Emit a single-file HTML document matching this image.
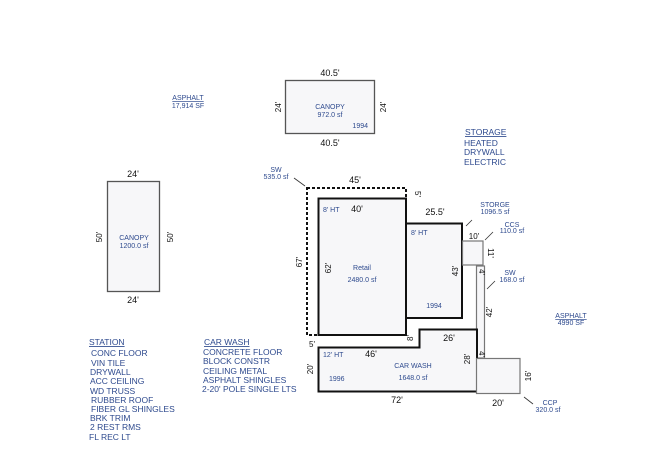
<!DOCTYPE html>
<html><head><meta charset="utf-8"><style>
html,body{margin:0;padding:0;background:#fff;}
svg{display:block;font-family:"Liberation Sans",sans-serif;}
.b{fill:#2e4a8e;font-size:7px;}
.bl{fill:#2e4a8e;font-size:8.5px;}
.d{fill:#111;font-size:9px;}
.ds{fill:#111;font-size:8px;}
</style></head><body>
<svg width="650" height="464" viewBox="0 0 650 464">
<rect width="650" height="464" fill="#fff"/>
<!-- top canopy -->
<rect x="285.5" y="80.5" width="89" height="53" fill="#f7f7f9" stroke="#555" stroke-width="1.3"/>
<text class="d" x="330" y="76" text-anchor="middle">40.5'</text>
<text class="d" x="330" y="146" text-anchor="middle">40.5'</text>
<text class="ds" transform="translate(281,107) rotate(-90)" text-anchor="middle">24'</text>
<text class="ds" transform="translate(386,107) rotate(-90)" text-anchor="middle">24'</text>
<text class="b" x="330" y="109" text-anchor="middle">CANOPY</text>
<text class="b" x="330" y="117" text-anchor="middle">972.0 sf</text>
<text class="b" x="368" y="128" text-anchor="end">1994</text>
<!-- asphalt -->
<text class="b" x="188" y="100" text-anchor="middle" text-decoration="underline">ASPHALT</text>
<text class="b" x="188" y="108" text-anchor="middle">17,914 SF</text>
<!-- left canopy -->
<rect x="107.5" y="181.5" width="52" height="110" fill="#f7f7f9" stroke="#555" stroke-width="1.3"/>
<text class="d" x="133" y="177" text-anchor="middle">24'</text>
<text class="d" x="133" y="303" text-anchor="middle">24'</text>
<text class="ds" transform="translate(102,237) rotate(-90)" text-anchor="middle">50'</text>
<text class="ds" transform="translate(173,237) rotate(-90)" text-anchor="middle">50'</text>
<text class="b" x="134" y="240" text-anchor="middle">CANOPY</text>
<text class="b" x="134" y="248" text-anchor="middle">1200.0 sf</text>
<!-- SW dashed -->
<rect x="307" y="188" width="99" height="147" fill="#fff" stroke="#111" stroke-width="2" stroke-dasharray="3,2"/>
<text class="b" x="276" y="172" text-anchor="middle">SW</text>
<text class="b" x="276" y="179" text-anchor="middle">535.0 sf</text>
<line x1="294" y1="178" x2="305" y2="186" stroke="#333" stroke-width="0.8"/>
<text class="d" x="355" y="183" text-anchor="middle">45'</text>
<text class="ds" transform="translate(415,194) rotate(90)" text-anchor="middle">5'</text>
<text class="ds" transform="translate(302,262) rotate(-90)" text-anchor="middle">67'</text>
<!-- retail -->
<rect x="318.5" y="198.5" width="87.5" height="136.5" fill="#f7f7f9" stroke="#111" stroke-width="2"/>
<text class="b" x="323" y="212">8' HT</text>
<text class="d" x="357" y="212" text-anchor="middle">40'</text>
<text class="ds" transform="translate(331,268) rotate(-90)" text-anchor="middle">62'</text>
<text class="b" x="362" y="270" text-anchor="middle">Retail</text>
<text class="b" x="362" y="282" text-anchor="middle">2480.0 sf</text>
<text class="ds" x="312" y="347" text-anchor="middle">5'</text>
<!-- storage -->
<rect x="406" y="223.5" width="56" height="94.5" fill="#f7f7f9" stroke="#111" stroke-width="2"/>
<text class="d" x="435" y="215" text-anchor="middle">25.5'</text>
<text class="b" x="411" y="235">8' HT</text>
<text class="ds" transform="translate(458,271) rotate(-90)" text-anchor="middle">43'</text>
<text class="b" x="434" y="308" text-anchor="middle">1994</text>
<text class="b" x="495" y="207" text-anchor="middle">STORGE</text>
<text class="b" x="495" y="214" text-anchor="middle">1096.5 sf</text>
<line x1="472" y1="220" x2="466" y2="226" stroke="#333" stroke-width="0.8"/>
<!-- CCS -->
<rect x="462.5" y="241" width="20.5" height="24" fill="#f7f7f9" stroke="#777" stroke-width="1.2"/>
<text class="ds" x="474" y="239" text-anchor="middle">10'</text>
<text class="ds" transform="translate(488,253) rotate(90)" text-anchor="middle">11'</text>
<text class="b" x="512" y="227" text-anchor="middle">CCS</text>
<text class="b" x="512" y="233" text-anchor="middle">110.0 sf</text>
<line x1="493" y1="232" x2="485" y2="240" stroke="#333" stroke-width="0.8"/>
<!-- SW strip -->
<rect x="476.5" y="266" width="8" height="92" fill="#f7f7f9" stroke="#777" stroke-width="1.2"/>
<text class="ds" transform="translate(479,272) rotate(90)" text-anchor="middle">4'</text>
<text class="ds" transform="translate(492,312) rotate(-90)" text-anchor="middle">42'</text>
<text class="b" x="510" y="275" text-anchor="middle">SW</text>
<text class="b" x="512" y="282" text-anchor="middle">168.0 sf</text>
<line x1="495" y1="281" x2="487" y2="289" stroke="#333" stroke-width="0.8"/>
<text class="ds" transform="translate(479,354) rotate(90)" text-anchor="middle">4'</text>
<!-- car wash -->
<polygon points="318.5,347.5 419.5,347.5 419.5,329.5 477,329.5 477,391.5 318.5,391.5" fill="#f7f7f9" stroke="#111" stroke-width="2"/>
<text class="ds" transform="translate(413,338) rotate(-90)" text-anchor="middle">8'</text>
<text class="d" x="449" y="341" text-anchor="middle">26'</text>
<text class="b" x="323" y="357">12' HT</text>
<text class="d" x="371" y="357" text-anchor="middle">46'</text>
<text class="ds" transform="translate(313,369) rotate(-90)" text-anchor="middle">20'</text>
<text class="ds" transform="translate(470,359) rotate(-90)" text-anchor="middle">28'</text>
<text class="b" x="413" y="368" text-anchor="middle">CAR WASH</text>
<text class="b" x="413" y="380" text-anchor="middle">1648.0 sf</text>
<text class="b" x="329" y="381">1996</text>
<text class="d" x="397" y="403" text-anchor="middle">72'</text>
<!-- CCP -->
<rect x="476.5" y="358.5" width="43.5" height="35" fill="#f7f7f9" stroke="#777" stroke-width="1.2"/>
<text class="ds" transform="translate(531,376) rotate(-90)" text-anchor="middle">16'</text>
<text class="d" x="498" y="406" text-anchor="middle">20'</text>
<text class="b" x="550" y="405" text-anchor="middle">CCP</text>
<text class="b" x="548" y="412" text-anchor="middle">320.0 sf</text>
<line x1="524" y1="397" x2="533" y2="404" stroke="#333" stroke-width="0.8"/>
<!-- asphalt right -->
<text class="b" x="571" y="318" text-anchor="middle" text-decoration="underline">ASPHALT</text>
<text class="b" x="571" y="325" text-anchor="middle">4990 SF</text>
<!-- storage notes -->
<text class="bl" x="465" y="135" text-decoration="underline">STORAGE</text>
<text class="bl" x="464" y="146">HEATED</text>
<text class="bl" x="464" y="155">DRYWALL</text>
<text class="bl" x="464" y="165">ELECTRIC</text>
<!-- station notes -->
<text class="bl" x="89" y="345" text-decoration="underline">STATION</text>
<text class="bl" x="91" y="356">CONC FLOOR</text>
<text class="bl" x="91" y="366">VIN TILE</text>
<text class="bl" x="90" y="375">DRYWALL</text>
<text class="bl" x="90" y="384">ACC CEILING</text>
<text class="bl" x="90" y="394">WD TRUSS</text>
<text class="bl" x="91" y="403">RUBBER ROOF</text>
<text class="bl" x="91" y="412">FIBER GL SHINGLES</text>
<text class="bl" x="90" y="421">BRK TRIM</text>
<text class="bl" x="90" y="430">2 REST RMS</text>
<text class="bl" x="89" y="440">FL REC LT</text>
<!-- car wash notes -->
<text class="bl" x="204" y="345" text-decoration="underline">CAR WASH</text>
<text class="bl" x="203" y="355">CONCRETE FLOOR</text>
<text class="bl" x="203" y="364">BLOCK CONSTR</text>
<text class="bl" x="203" y="374">CEILING METAL</text>
<text class="bl" x="203" y="383">ASPHALT SHINGLES</text>
<text class="bl" x="202" y="392">2-20' POLE SINGLE LTS</text>
</svg>
</body></html>
